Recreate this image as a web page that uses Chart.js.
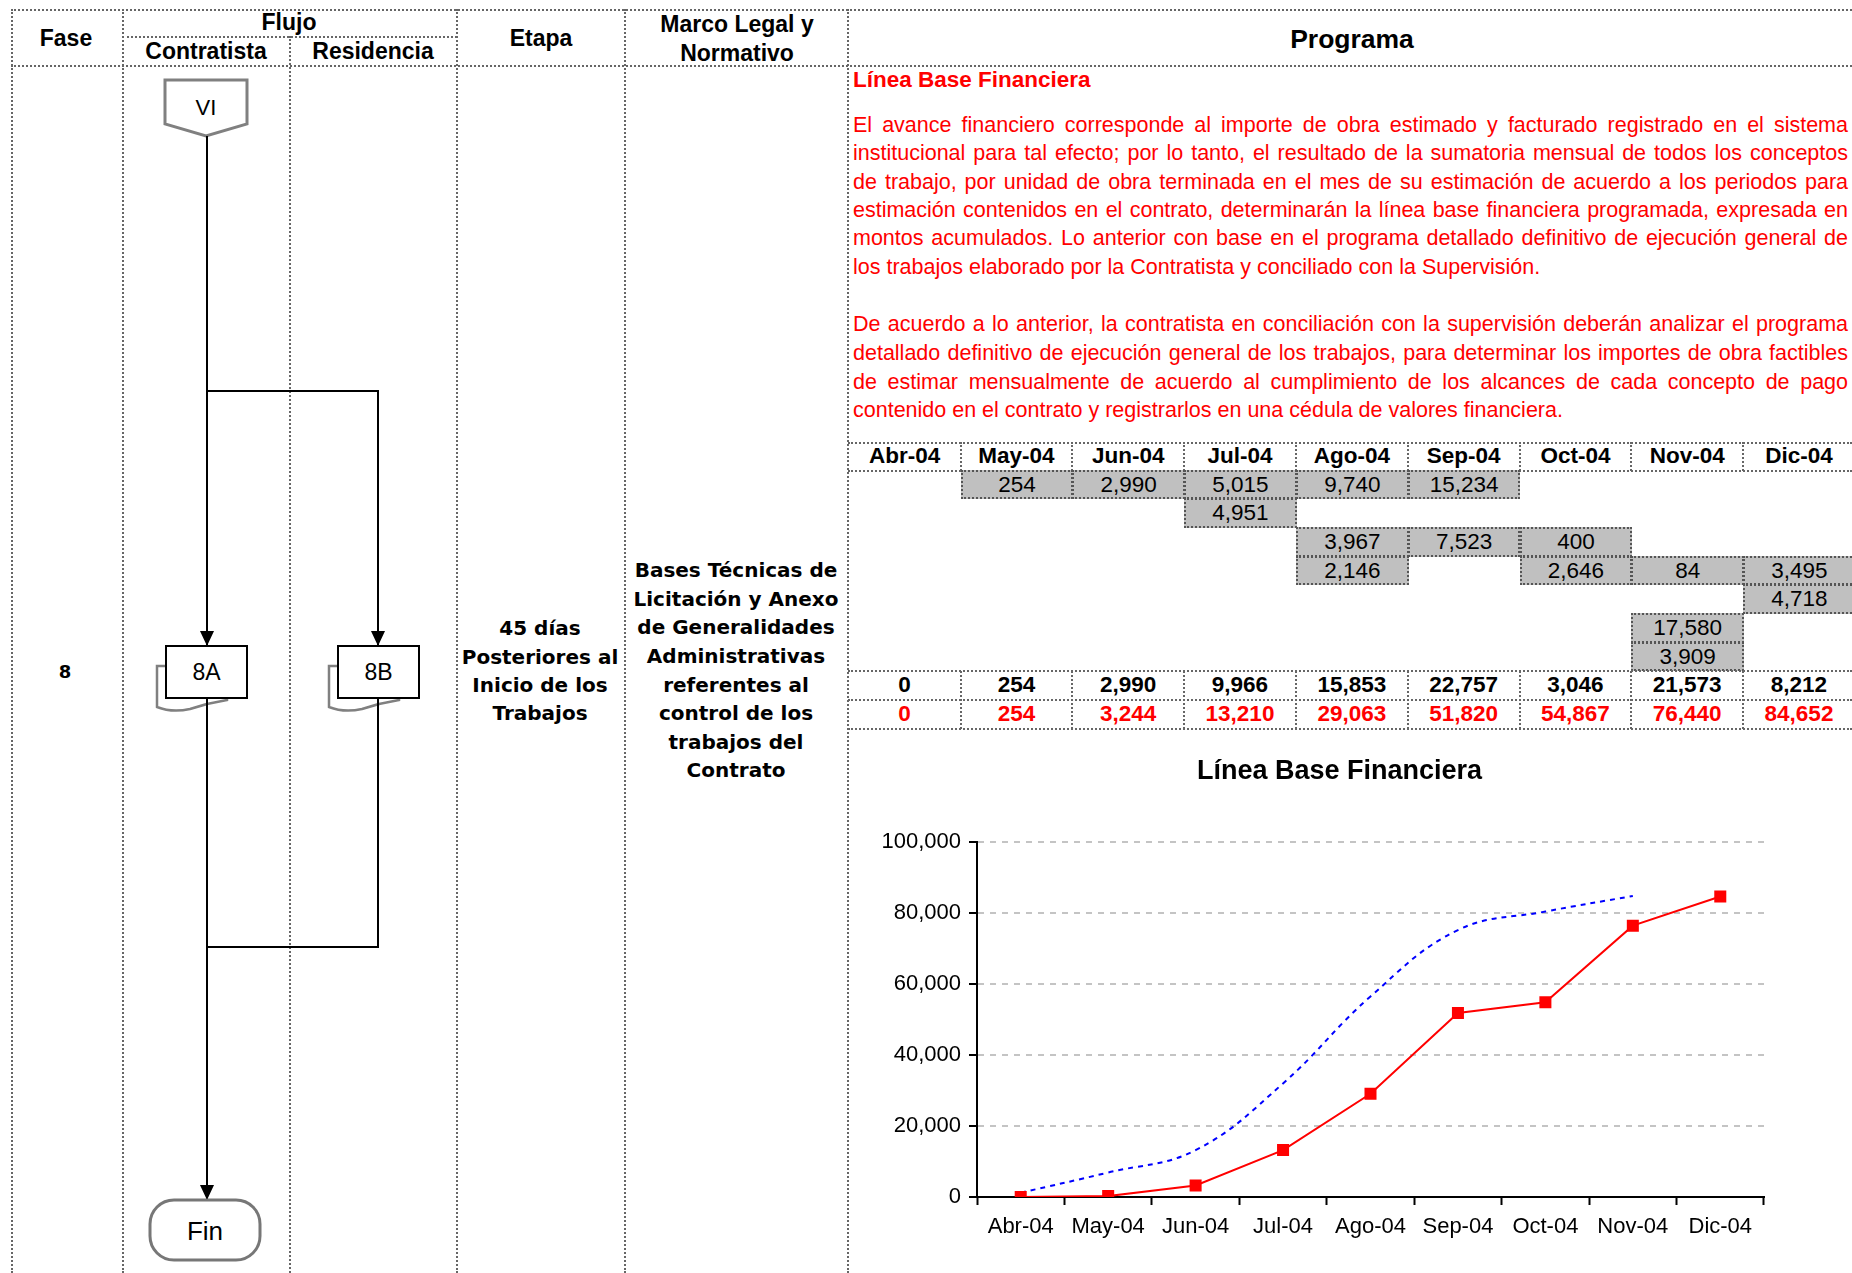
<!DOCTYPE html>
<html>
<head>
<meta charset="utf-8">
<script src="https://cdn.jsdelivr.net/npm/chart.js@4.4.1/dist/chart.umd.min.js"></script>
<style>
  body { margin: 0; width: 1852px; height: 1273px; position: relative; overflow: hidden; background: #fff;
         font-family: 'Liberation Sans', Arial, sans-serif; color: #000; }
  .hl { position: absolute; height: 0; border-top: 2px dotted #666; }
  .vl { position: absolute; width: 0; border-left: 2px dotted #666; }
  .t { position: absolute; transform: translate(-50%, -50%); white-space: nowrap; font-weight: bold; font-size: 23px; }
  .f { font-family: 'DejaVu Sans', Verdana, sans-serif; font-size: 20px; }
  .pl { position: absolute; left: 853px; width: 995px; height: 28px; line-height: 28px; font-size: 21.5px; color: #f00;
        white-space: nowrap; }
  .cell { position: absolute; box-sizing: border-box; text-align: center; font-size: 22.5px; }
  .gris { background: #c0c0c0; border: 2px dotted #555; }
  #grafica { position: absolute; left: 849px; top: 731px; width: 1003px; height: 542px; }
</style>
</head>
<body>

<!-- marco de la tabla -->
<div class="hl" style="left:11px; top:9px; width:1841px"></div>
<div class="hl" style="left:122px; top:36px; width:335px"></div>
<div class="hl" style="left:11px; top:65px; width:1841px"></div>
<div class="vl" style="left:11px; top:9px; height:1264px"></div>
<div class="vl" style="left:122px; top:9px; height:1264px"></div>
<div class="vl" style="left:289px; top:36px; height:1237px"></div>
<div class="vl" style="left:456px; top:9px; height:1264px"></div>
<div class="vl" style="left:624px; top:9px; height:1264px"></div>
<div class="vl" style="left:847px; top:9px; height:1264px"></div>

<div class="t" style="left:66px; top:38px">Fase</div>
<div class="t" style="left:289px; top:22px">Flujo</div>
<div class="t" style="left:206px; top:51px">Contratista</div>
<div class="t" style="left:373px; top:51px">Residencia</div>
<div class="t" style="left:541px; top:38px">Etapa</div>
<div class="t" style="left:737px; top:24px">Marco Legal y</div>
<div class="t" style="left:737px; top:53px">Normativo</div>
<div class="t" style="left:1352px; top:39px; font-size:26.5px">Programa</div>

<div class="t f" style="left:65px; top:671px; font-size:18px">8</div>

<div class="t f" style="left:540px; top:628px">45 días</div>
<div class="t f" style="left:540px; top:657px">Posteriores al</div>
<div class="t f" style="left:540px; top:685px">Inicio de los</div>
<div class="t f" style="left:540px; top:713px">Trabajos</div>

<div class="t f" style="left:736px; top:570px">Bases Técnicas de</div>
<div class="t f" style="left:736px; top:599px">Licitación y Anexo</div>
<div class="t f" style="left:736px; top:627px">de Generalidades</div>
<div class="t f" style="left:736px; top:656px">Administrativas</div>
<div class="t f" style="left:736px; top:685px">referentes al</div>
<div class="t f" style="left:736px; top:713px">control de los</div>
<div class="t f" style="left:736px; top:742px">trabajos del</div>
<div class="t f" style="left:736px; top:770px">Contrato</div>

<!-- diagrama de flujo -->
<svg style="position:absolute; left:0; top:0" width="848" height="1273">
  <defs>
    <marker id="flecha" markerWidth="15" markerHeight="14" refX="15" refY="7" orient="auto" markerUnits="userSpaceOnUse">
      <path d="M0,0 L15,7 L0,14 Z" fill="#000"/>
    </marker>
  </defs>
  <polygon points="165,80 247,80 247,124 206,136 165,124" fill="#fff" stroke="#808080" stroke-width="3"/>
  <text x="206" y="115" font-size="22" text-anchor="middle" font-family="Liberation Sans, Arial">VI</text>

  <line x1="207" y1="136" x2="207" y2="646" stroke="#000" stroke-width="2" marker-end="url(#flecha)"/>
  <polyline points="207,391 378,391 378,646" fill="none" stroke="#000" stroke-width="2" marker-end="url(#flecha)"/>

  <path d="M166,666 L157,666 L157,707 Q172,713 190,709 Q208,703 227,700 L227,698" fill="none" stroke="#808080" stroke-width="2.5"/>
  <rect x="166" y="646" width="81" height="52" fill="#fff" stroke="#000" stroke-width="2"/>
  <text x="206.5" y="680" font-size="23" text-anchor="middle" font-family="Liberation Sans, Arial">8A</text>

  <path d="M338,666 L329,666 L329,707 Q344,713 362,709 Q380,703 399,700 L399,698" fill="none" stroke="#808080" stroke-width="2.5"/>
  <rect x="338" y="646" width="81" height="52" fill="#fff" stroke="#000" stroke-width="2"/>
  <text x="378.5" y="680" font-size="23" text-anchor="middle" font-family="Liberation Sans, Arial">8B</text>

  <line x1="207" y1="698" x2="207" y2="1200" stroke="#000" stroke-width="2" marker-end="url(#flecha)"/>
  <polyline points="378,698 378,947 207,947" fill="none" stroke="#000" stroke-width="2"/>

  <rect x="150" y="1200" width="110" height="60" rx="24" ry="24" fill="#fff" stroke="#777" stroke-width="3"/>
  <text x="205" y="1240" font-size="26" text-anchor="middle" font-family="Liberation Sans, Arial">Fin</text>
</svg>

<!-- texto del programa -->
<div class="t" style="left:853px; top:80px; transform:translate(0,-50%); color:#f00; font-size:22.5px">Línea Base Financiera</div>
<div class="pl just" style="top:111px"><span>El avance financiero corresponde al importe de obra estimado y facturado registrado en el sistema</span></div>
<div class="pl just" style="top:139px"><span>institucional para tal efecto; por lo tanto, el resultado de la sumatoria mensual de todos los conceptos</span></div>
<div class="pl just" style="top:168px"><span>de trabajo, por unidad de obra terminada en el mes de su estimación de acuerdo a los periodos para</span></div>
<div class="pl just" style="top:196px"><span>estimación contenidos en el contrato, determinarán la línea base financiera programada, expresada en</span></div>
<div class="pl just" style="top:224px"><span>montos acumulados. Lo anterior con base en el programa detallado definitivo de ejecución general de</span></div>
<div class="pl" style="top:253px"><span>los trabajos elaborado por la Contratista y conciliado con la Supervisión.</span></div>
<div class="pl just" style="top:310px"><span>De acuerdo a lo anterior, la contratista en conciliación con la supervisión deberán analizar el programa</span></div>
<div class="pl just" style="top:339px"><span>detallado definitivo de ejecución general de los trabajos, para determinar los importes de obra factibles</span></div>
<div class="pl just" style="top:368px"><span>de estimar mensualmente de acuerdo al cumplimiento de los alcances de cada concepto de pago</span></div>
<div class="pl" style="top:396px"><span>contenido en el contrato y registrarlos en una cédula de valores financiera.</span></div>

<div id="tabla"></div>
<div id="grafica"><canvas id="lineaBase"></canvas></div>

<script>
const meses = ['Abr-04', 'May-04', 'Jun-04', 'Jul-04', 'Ago-04', 'Sep-04', 'Oct-04', 'Nov-04', 'Dic-04'];

// importes por partida (celdas grises), una fila por concepto
const partida1 = [null, 254, 2990, 5015, 9740, 15234, null, null, null];
const partida2 = [null, null, null, 4951, null, null, null, null, null];
const partida3 = [null, null, null, null, 3967, 7523, 400, null, null];
const partida4 = [null, null, null, null, 2146, null, 2646, 84, 3495];
const partida5 = [null, null, null, null, null, null, null, null, 4718];
const partida6 = [null, null, null, null, null, null, null, 17580, null];
const partida7 = [null, null, null, null, null, null, null, 3909, null];

const mensual = [0, 254, 2990, 9966, 15853, 22757, 3046, 21573, 8212];
const acumulado = [0, 254, 3244, 13210, 29063, 51820, 54867, 76440, 84652];
// curva suavizada azul
const curvaAzul = [1200, 6900, 13200, 32000, 56500, 75200, 80400, 84800, null];

const ejeY = { min: 0, max: 100000, paso: 20000 };
const titulo = 'Línea Base Financiera';

const fmt = v => v.toLocaleString('en-US');

// justificar cada renglon a mano (ancho fijo)
document.querySelectorAll('.pl.just').forEach(el => {
    const span = el.firstElementChild;
    const w = span.getBoundingClientRect().width;
    const espacios = span.textContent.split(' ').length - 1;
    el.style.wordSpacing = ((995 - w) / espacios) + 'px';
});

// tabla de meses
const tabla = document.getElementById('tabla');
const X0 = 848.7, CW = 111.8, YH = 442, YD = 470.7, RH = 28.65;

function div(cls, style, txt) {
    const d = document.createElement('div');
    d.className = cls;
    d.setAttribute('style', style);
    if (txt !== undefined) d.textContent = txt;
    tabla.appendChild(d);
}

div('hl', `left:848px; top:${YH}px; width:1004px`);
div('hl', `left:848px; top:${YD - 1}px; width:1004px`);
meses.forEach((m, i) => {
    div('cell', `left:${X0 + i * CW}px; top:${YH}px; width:${CW}px; height:${YD - YH}px; line-height:${YD - YH}px; font-weight:bold`, m);
    if (i > 0) div('vl', `left:${X0 + i * CW - 1}px; top:${YH}px; height:${YD - YH}px`);
});

const partidas = [partida1, partida2, partida3, partida4, partida5, partida6, partida7];
partidas.forEach((fila, r) => {
    fila.forEach((v, i) => {
        if (v === null) return;
        div('cell gris', `left:${X0 + i * CW}px; top:${YD + r * RH - 1}px; width:${CW + 1}px; height:${RH + 1}px; line-height:${RH - 3}px`, fmt(v));
    });
});

const yT = YD + 7 * RH;
div('hl', `left:848px; top:${yT - 1}px; width:1004px`);
div('hl', `left:848px; top:${yT + RH - 1}px; width:1004px`);
div('hl', `left:848px; top:${yT + 2 * RH - 1}px; width:1004px`);
meses.forEach((m, i) => {
    div('cell', `left:${X0 + i * CW}px; top:${yT}px; width:${CW}px; height:${RH}px; line-height:${RH}px; font-weight:bold`, fmt(mensual[i]));
    div('cell', `left:${X0 + i * CW}px; top:${yT + RH}px; width:${CW}px; height:${RH}px; line-height:${RH}px; font-weight:bold; color:#f00`, fmt(acumulado[i]));
    if (i > 0) div('vl', `left:${X0 + i * CW - 1}px; top:${yT}px; height:${2 * RH}px`);
});

// grafica
Chart.defaults.font.family = "'Liberation Sans', Arial, sans-serif";
Chart.defaults.color = '#000';

// titulo como en Excel: un poco a la izquierda del centro del area de trazo
const tituloExcel = {
    id: 'tituloExcel',
    afterDraw(chart) {
        const { ctx, chartArea } = chart;
        ctx.save();
        ctx.font = "bold 27px 'Liberation Sans', Arial, sans-serif";
        ctx.fillStyle = '#000';
        ctx.textAlign = 'center';
        ctx.textBaseline = 'middle';
        ctx.fillText(titulo, (chartArea.left + chartArea.right) / 2 - 31, 41);
        ctx.restore();
    }
};

const ctx = document.getElementById('lineaBase').getContext('2d');
const chart = new Chart(ctx, {
    type: 'line',
    data: {
        labels: meses,
        datasets: [{
            label: 'Acumulado',
            data: acumulado,
            borderColor: '#ff0000',
            backgroundColor: '#ff0000',
            borderWidth: 2,
            pointStyle: 'rect',
            pointRadius: 8.5,
            pointBorderWidth: 0,
            tension: 0
        }, {
            label: 'Curva',
            data: curvaAzul,
            borderColor: '#0000ff',
            borderWidth: 2,
            borderDash: [5, 5],
            pointRadius: 0,
            tension: 0.4
        }]
    },
    options: {
        responsive: true,
        maintainAspectRatio: false,
        animation: false,
        layout: { padding: { left: 0, right: 88, top: 111, bottom: 0 } },
        scales: {
            x: {
                offset: true,
                grid: { offset: true, drawOnChartArea: false, tickLength: 8, tickColor: '#000', tickWidth: 2 },
                border: { color: '#000', width: 2 },
                ticks: { padding: 9, font: { size: 22 }, maxRotation: 0 },
                afterFit: s => { s.height = 76; }
            },
            y: {
                min: ejeY.min,
                max: ejeY.max,
                ticks: { stepSize: ejeY.paso, padding: 8, font: { size: 22 }, callback: v => fmt(v) },
                grid: { color: '#c4c4c4', lineWidth: 2, tickLength: 8, tickColor: '#000', tickWidth: 2 },
                border: { color: '#000', width: 2, dash: [6, 6] },
                afterFit: s => { s.width = 128; }
            }
        },
        plugins: {
            legend: { display: false },
            tooltip: { enabled: false },
            title: { display: false }
        }
    },
    plugins: [tituloExcel]
});
</script>
</body>
</html>
